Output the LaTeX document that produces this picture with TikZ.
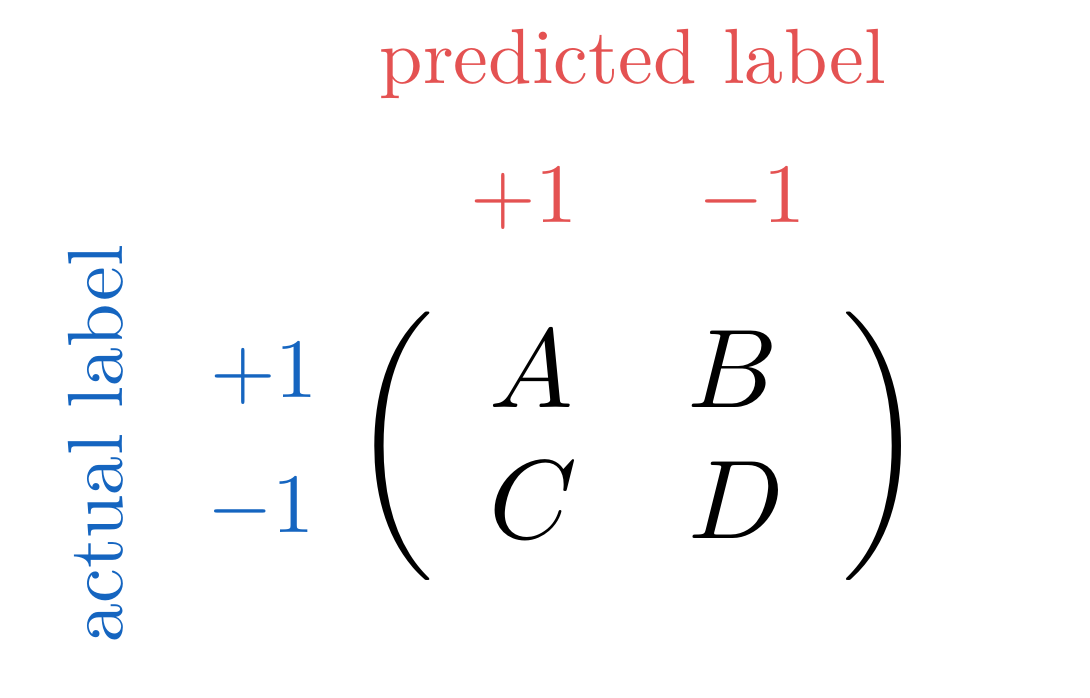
\documentclass[tikz,border=0pt]{standalone}
\definecolor{predred}{RGB}{228,82,82}
\definecolor{actblue}{RGB}{21,101,192}
\tikzset{
  lbltext/.style={inner sep=0pt, anchor=base, scale=1.076},
  numtext/.style={inner sep=0pt, anchor=base, scale=1.16},
  mattext/.style={inner sep=0pt, anchor=base, scale=1.54},
  parens/.style={inner sep=0pt, anchor=center, scale=1.54},
}
\begin{document}
\begin{tikzpicture}[x=0.13761pt, y=-0.13761pt]
\useasboundingbox (0,0) rectangle (1090,698);
\node[lbltext, text=predred] (pred) at (633,83) {predicted label};
\node[numtext, text=predred] (pp) at (524,222) {$+1$};
\node[numtext, text=predred] (pm) at (752,222) {$-1$};
\node[lbltext, text=actblue, rotate=90] (act) at (123,444) {actual label};
\node[numtext, text=actblue] (ap) at (264,397) {$+1$};
\node[numtext, text=actblue] (am) at (261,532) {$-1$};
\node[mattext] (a) at (531,407) {$A$};
\node[mattext] (b) at (733,407) {$B$};
\node[mattext] (c) at (533,538) {$C$};
\node[mattext] (d) at (736,538) {$D$};
\node[parens] (lp) at (393,446) {$\nulldelimiterspace=0pt\left(\vcenter to 21pt{}\right.$};
\node[parens] (rp) at (884,446) {$\nulldelimiterspace=0pt\left.\vcenter to 21pt{}\right)$};
\end{tikzpicture}
\end{document}
